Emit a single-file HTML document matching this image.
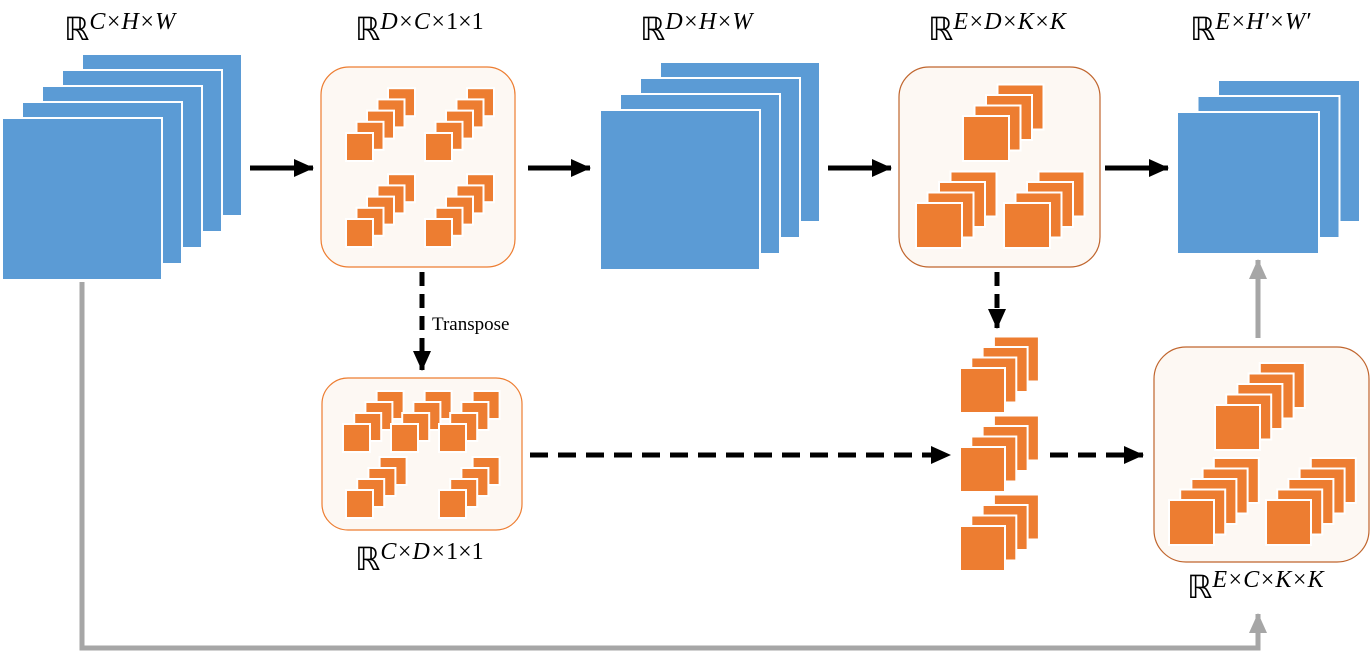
<!DOCTYPE html>
<html><head><meta charset="utf-8"><style>
html,body{margin:0;padding:0;background:#fff;}
svg{display:block}
text{font-family:"Liberation Serif",serif;}
</style></head><body>
<svg id="s" width="1370" height="655" viewBox="0 0 1370 655" xmlns="http://www.w3.org/2000/svg">
<defs>
<marker id="ab" markerWidth="20" markerHeight="18" refX="19" refY="9" orient="auto" markerUnits="userSpaceOnUse"><path d="M0,0 L20,9 L0,18 z" fill="#000"/></marker>
<marker id="ag" markerWidth="20" markerHeight="18" refX="19" refY="9" orient="auto" markerUnits="userSpaceOnUse"><path d="M0,0 L20,9 L0,18 z" fill="#a6a6a6"/></marker>
</defs>
<g id="g"></g>
<rect x="321" y="67" width="194" height="200" rx="28" fill="#fdf8f3" stroke="#ed7d31" stroke-width="1.2"/>
<rect x="899" y="67" width="201" height="200" rx="30" fill="#fdf8f3" stroke="#c0652d" stroke-width="1.2"/>
<rect x="322" y="378" width="200" height="152" rx="26" fill="#fdf8f3" stroke="#ed7d31" stroke-width="1.2"/>
<rect x="1154" y="347" width="215" height="215" rx="32" fill="#fdf8f3" stroke="#c0652d" stroke-width="1.2"/>
<g id="sq"></g>
<g stroke="#000" stroke-width="5" fill="none">
<line x1="250" y1="168" x2="313" y2="168" marker-end="url(#ab)"/>
<line x1="528" y1="168" x2="590" y2="168" marker-end="url(#ab)"/>
<line x1="828" y1="168" x2="891" y2="168" marker-end="url(#ab)"/>
<line x1="1105" y1="168" x2="1168" y2="168" marker-end="url(#ab)"/>
<line x1="422" y1="272" x2="422" y2="370" stroke-dasharray="14,8" marker-end="url(#ab)"/>
<line x1="997" y1="272" x2="997" y2="328" stroke-dasharray="14,8" marker-end="url(#ab)"/>
<line x1="530" y1="455" x2="950" y2="455" stroke-dasharray="18,10" marker-end="url(#ab)"/>
<line x1="1050" y1="455" x2="1143" y2="455" stroke-dasharray="18,10" marker-end="url(#ab)"/>
</g>
<g stroke="#a6a6a6" stroke-width="5" fill="none">
<polyline points="82,282 82,648 1258,648 1258,614" marker-end="url(#ag)"/>
<line x1="1258" y1="338" x2="1258" y2="260" marker-end="url(#ag)"/>
</g>
<text x="432" y="330" font-size="19">Transpose</text>
<g font-size="32">
<text x="64" y="40">ℝ<tspan font-size="24" font-style="italic" dy="-11">C×H×W</tspan></text>
<text x="355" y="40">ℝ<tspan font-size="24" font-style="italic" dy="-11">D×C×</tspan><tspan font-size="24">1×1</tspan></text>
<text x="640" y="40">ℝ<tspan font-size="24" font-style="italic" dy="-11">D×H×W</tspan></text>
<text x="928" y="40">ℝ<tspan font-size="24" font-style="italic" dy="-11">E×D×K×K</tspan></text>
<text x="1190" y="40">ℝ<tspan font-size="24" font-style="italic" dy="-11">E×H′×W′</tspan></text>
<text x="355" y="570">ℝ<tspan font-size="24" font-style="italic" dy="-11">C×D×</tspan><tspan font-size="24">1×1</tspan></text>
<text x="1187" y="598">ℝ<tspan font-size="24" font-style="italic" dy="-11">E×C×K×K</tspan></text>
</g>
</svg>
<script>
var NS="http://www.w3.org/2000/svg";
function r(p,x,y,w,h,f){var e=document.createElementNS(NS,"rect");e.setAttribute("x",x);e.setAttribute("y",y);e.setAttribute("width",w);e.setAttribute("height",h);e.setAttribute("fill",f);e.setAttribute("stroke","#fff");e.setAttribute("stroke-width","2");p.appendChild(e);}
var g=document.getElementById("g"),q=document.getElementById("sq");
function stack(p,fx,fy,w,h,n,dx,dy,f){for(var i=n-1;i>=0;i--)r(p,fx+i*dx,fy+i*dy,w,h,f);}
var B="#5b9bd5",O="#ed7d31";
stack(g,2,118,160,162,5,20,-16,B);
stack(g,600,110,160,160,4,20,-16,B);
stack(g,1177,112,142,142,3,20.5,-16,B);
[[346,133],[425,133],[346,219],[425,219]].forEach(function(a){stack(q,a[0],a[1],27,28,5,10.5,-11.2,O);});
[[963,116],[916,203],[1004,203]].forEach(function(a){stack(q,a[0],a[1],46,45,4,11.5,-10.5,O);});
[[960,368],[960,447],[960,526]].forEach(function(a){stack(q,a[0],a[1],45,45,4,11.3,-10.5,O);});
[[1215,405],[1169,500],[1266,500]].forEach(function(a){stack(q,a[0],a[1],45,45,5,11.2,-10.5,O);});
[[343,424],[391,424],[439,424],[346,490],[439,490]].forEach(function(a){stack(q,a[0],a[1],27,28,4,11.2,-11,O);});
</script>
</body></html>
